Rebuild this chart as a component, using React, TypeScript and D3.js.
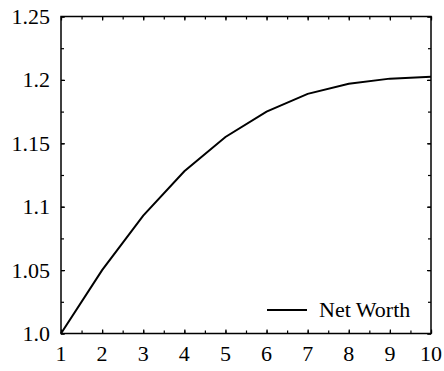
import React, { useEffect, useRef } from 'react';
import * as d3 from 'd3';

const years = [1, 2, 3, 4, 5, 6, 7, 8, 9, 10];
const netWorth = [1.0, 1.05, 1.093, 1.128, 1.155, 1.175, 1.189, 1.197, 1.201, 1.2025];
const yTicks = [1.0, 1.05, 1.1, 1.15, 1.2, 1.25];
const yTickLabels = ['1.0', '1.05', '1.1', '1.15', '1.2', '1.25'];
const seriesName = 'Net Worth';

const W = 444;
const H = 371;
const margin = { top: 16.5, right: 13, bottom: 37.5, left: 61 };
const font = '"Liberation Serif", "Times New Roman", serif';
const fontSize = 22;

function NetWorthChart() {
  const ref = useRef<SVGSVGElement>(null);

  useEffect(() => {
    const svg = d3.select(ref.current).attr('width', W).attr('height', H);
    svg.selectAll('*').remove();

    const x = d3.scaleLinear().domain([1, 10]).range([margin.left, W - margin.right]);
    const y = d3.scaleLinear().domain([1.0, 1.25]).range([H - margin.bottom, margin.top]);

    const minorX = d3.range(1, 10.01, 0.5);
    const minorY = d3.range(1.0, 1.2501, 0.025);

    const styleAxis = (g: any) => {
      g.select('.domain').remove();
      g.selectAll('line').attr('stroke', '#000').attr('stroke-width', 1.2);
    };

    // minor + major ticks on all four sides, pointing inward
    const addTicks = (vals: number[], size: number) => {
      svg.append('g').attr('transform', `translate(0,${y(1.0)})`)
        .call(d3.axisTop(x).tickValues(vals).tickSize(size).tickFormat(() => ''))
        .call(styleAxis);
      svg.append('g').attr('transform', `translate(0,${y(1.25)})`)
        .call(d3.axisBottom(x).tickValues(vals).tickSize(size).tickFormat(() => ''))
        .call(styleAxis);
    };
    const addYTicks = (vals: number[], size: number) => {
      svg.append('g').attr('transform', `translate(${x(1)},0)`)
        .call(d3.axisRight(y).tickValues(vals).tickSize(size).tickFormat(() => ''))
        .call(styleAxis);
      svg.append('g').attr('transform', `translate(${x(10)},0)`)
        .call(d3.axisLeft(y).tickValues(vals).tickSize(size).tickFormat(() => ''))
        .call(styleAxis);
    };
    addTicks(minorX, 3);
    addTicks(years, 4);
    addYTicks(minorY, 3);
    addYTicks(yTicks, 4);

    // frame
    svg.append('rect')
      .attr('x', x(1)).attr('y', y(1.25))
      .attr('width', x(10) - x(1)).attr('height', y(1.0) - y(1.25))
      .attr('fill', 'none').attr('stroke', '#000').attr('stroke-width', 1.5);

    // tick labels
    svg.append('g').selectAll('text').data(years).enter().append('text')
      .attr('x', d => x(d)).attr('y', y(1.0) + 27)
      .attr('text-anchor', 'middle')
      .attr('font-family', font).attr('font-size', fontSize)
      .text(d => String(d));

    svg.append('g').selectAll('text').data(yTicks).enter().append('text')
      .attr('x', x(1) - 11).attr('y', d => y(d) + 7.5)
      .attr('text-anchor', 'end')
      .attr('font-family', font).attr('font-size', fontSize)
      .text((d, i) => yTickLabels[i]);

    // line
    const line = d3.line<number>()
      .x((d, i) => x(years[i]))
      .y(d => y(d));
    svg.append('path')
      .datum(netWorth)
      .attr('d', line)
      .attr('fill', 'none')
      .attr('stroke', '#000')
      .attr('stroke-width', 2);

    // legend
    const lg = svg.append('g');
    lg.append('line')
      .attr('x1', 267).attr('x2', 307).attr('y1', 310).attr('y2', 310)
      .attr('stroke', '#000').attr('stroke-width', 2);
    lg.append('text')
      .attr('x', 319).attr('y', 317)
      .attr('font-family', font).attr('font-size', fontSize)
      .text(seriesName);
  }, []);

  return <svg ref={ref} style={{ position: 'absolute', left: 0, top: 0 }}></svg>;
}

export default function App() {
  return <NetWorthChart />;
}
